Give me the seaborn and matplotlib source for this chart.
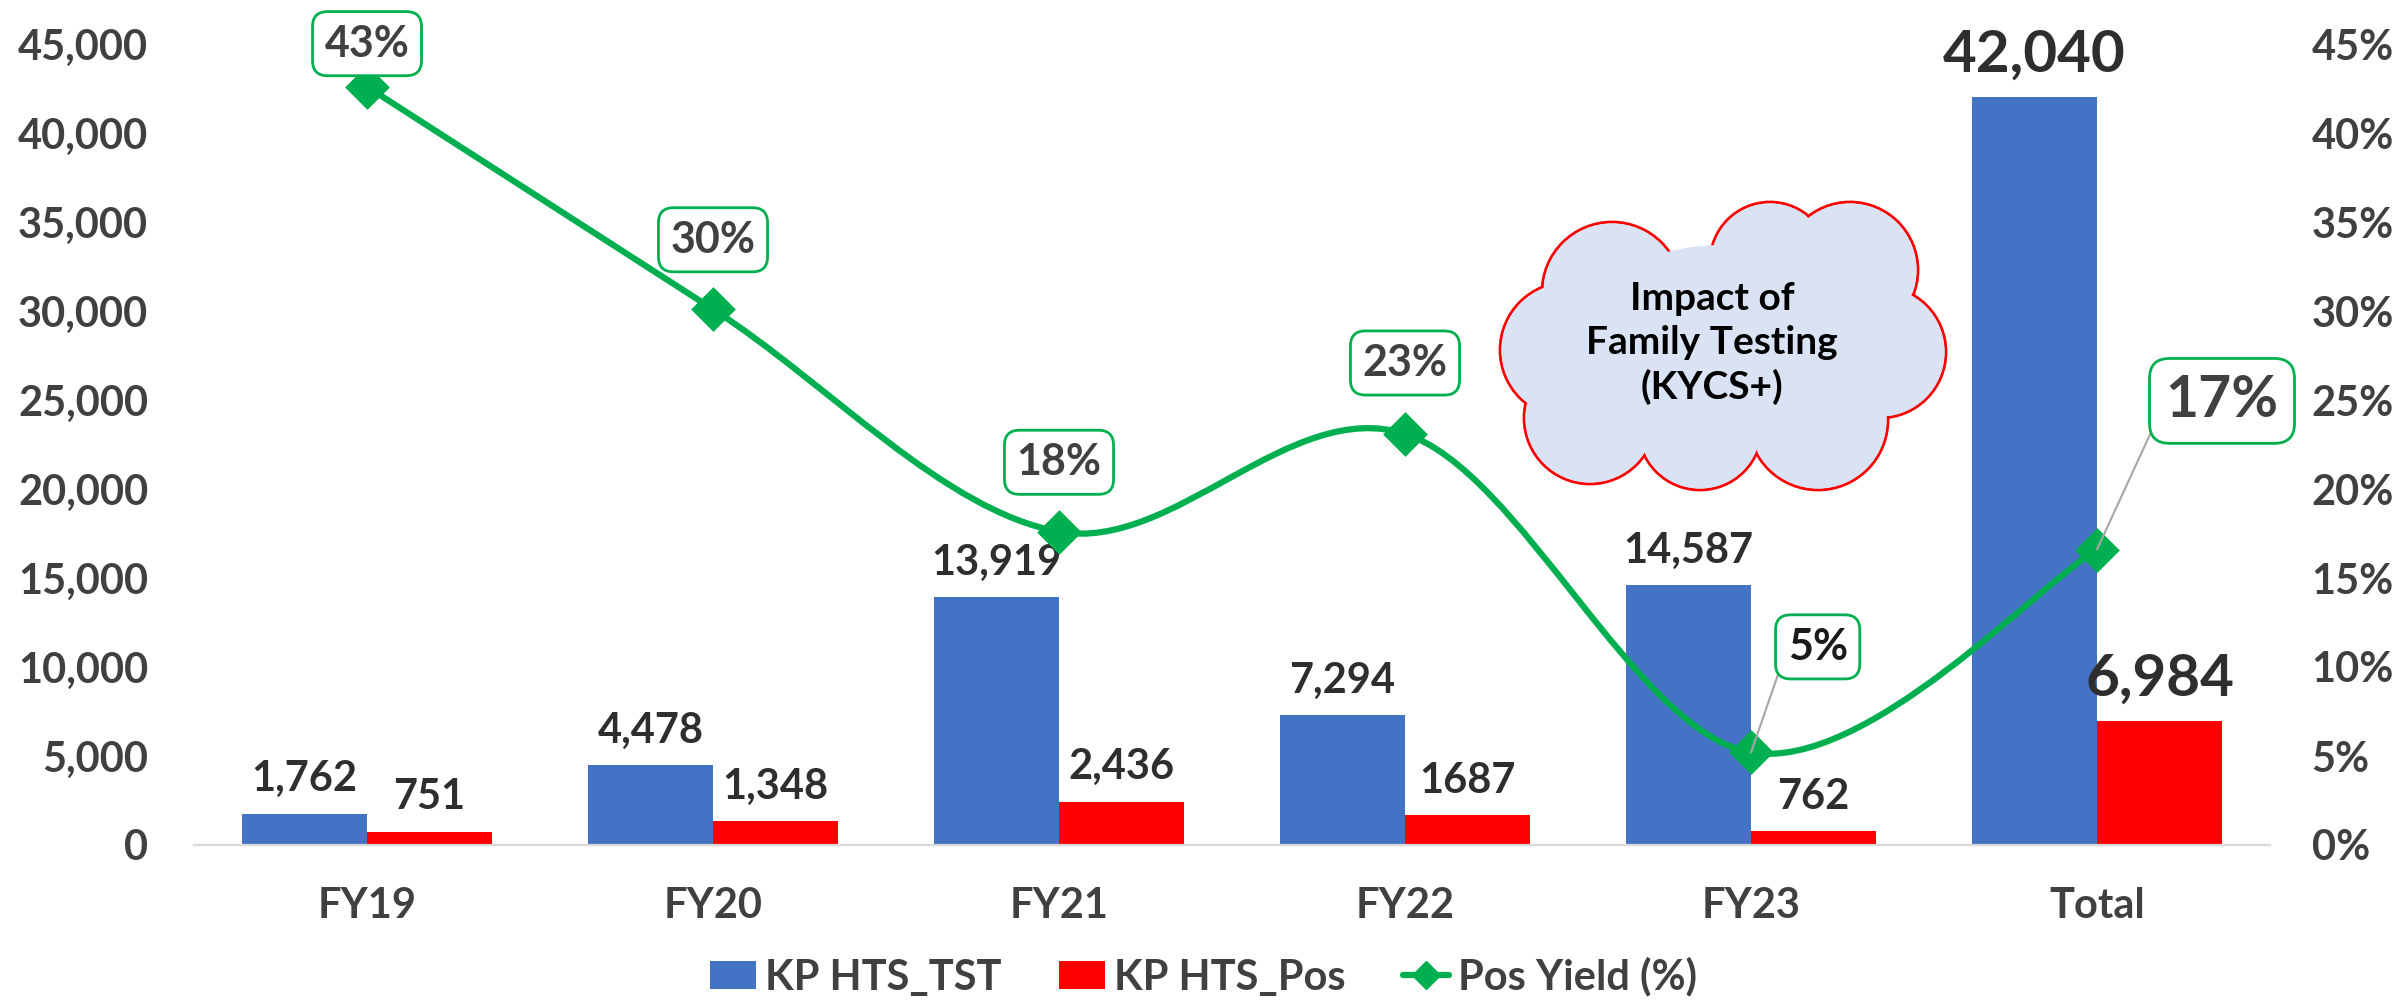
import numpy as np
import pandas as pd
import matplotlib
matplotlib.use("Agg")
import matplotlib.pyplot as plt
import seaborn as sns
from matplotlib.path import Path
from matplotlib.patches import PathPatch, Patch, Circle, Ellipse
from matplotlib.lines import Line2D
from matplotlib.ticker import FuncFormatter

# data
categories = ["FY19", "FY20", "FY21", "FY22", "FY23", "Total"]
tst = [1762, 4478, 13919, 7294, 14587, 42040]
pos = [751, 1348, 2436, 1687, 762, 6984]
pos_yield = [0.426, 0.301, 0.176, 0.231, 0.052, 0.166]
tst_labels = ["1,762", "4,478", "13,919", "7,294", "14,587", "42,040"]
pos_labels = ["751", "1,348", "2,436", "1687", "762", "6,984"]
yield_labels = ["43%", "30%", "18%", "23%", "5%", "17%"]
series_names = ["KP HTS_TST", "KP HTS_Pos", "Pos Yield (%)"]
cloud_text = "Impact of\nFamily Testing\n(KYCS+)"

BLUE = "#4472C4"
RED = "#FF0000"
GREEN = "#00B050"
GREY_TXT = "#404040"
DARK_TXT = "#2E2E2E"

sns.set_theme(style="white")
plt.rcParams["font.family"] = ["Lato", "DejaVu Sans"]
plt.rcParams["font.weight"] = "bold"

df = pd.DataFrame({
    "cat": categories * 2,
    "val": tst + pos,
    "series": [series_names[0]] * len(tst) + [series_names[1]] * len(pos),
})

W, H = 2407, 1007
fig = plt.figure(figsize=(W / 100, H / 100), dpi=100)
ax = fig.add_axes([194 / W, 162 / H, (2270 - 194) / W, (845 - 44) / H])

sns.barplot(data=df, x="cat", y="val", hue="series", palette=[BLUE, RED],
            width=0.722, gap=0, saturation=1, linewidth=0, ax=ax, legend=False)

ax.set_xlim(-0.5, 5.5)
ax.set_ylim(0, 45000)
ax.set_yticks(np.arange(0, 45001, 5000))
ax.yaxis.set_major_formatter(FuncFormatter(lambda v, p: f"{v:,.0f}"))
ax.set_xlabel("")
ax.set_ylabel("")
ax.tick_params(axis="both", length=0, labelsize=30, colors=GREY_TXT)
ax.tick_params(axis="x", pad=30)
ax.tick_params(axis="y", pad=33)
for s in ["top", "left", "right"]:
    ax.spines[s].set_visible(False)
ax.spines["bottom"].set_color("#D9D9D9")
ax.spines["bottom"].set_linewidth(1.6)

# bar value labels
for cont, labs in zip(ax.containers, [tst_labels, pos_labels]):
    txts = ax.bar_label(cont, labels=labs, padding=11, fontsize=30,
                        color=DARK_TXT, fontweight="bold")
    txts[-1].set_fontsize(42)

# secondary axis with smoothed yield line
ax2 = ax.twinx()
ax2.set_ylim(0, 0.45)
ax2.set_yticks(np.arange(0, 0.451, 0.05))
ax2.yaxis.set_major_formatter(FuncFormatter(lambda v, p: f"{v:.0%}"))
ax2.tick_params(axis="y", length=0, labelsize=30, colors=GREY_TXT, pad=30)
for s in ax2.spines.values():
    s.set_visible(False)
ax2.grid(False)

xs = np.arange(len(categories), dtype=float)
pts = [np.array(p) for p in zip(xs, pos_yield)]
ext = [pts[0]] + pts + [pts[-1]]
verts = [pts[0]]
codes = [Path.MOVETO]
for i in range(len(pts) - 1):
    p0, p1, p2, p3 = ext[i], ext[i + 1], ext[i + 2], ext[i + 3]
    verts += [p1 + (p2 - p0) / 6, p2 - (p3 - p1) / 6, p2]
    codes += [Path.CURVE4] * 3
ax2.add_patch(PathPatch(Path(verts, codes), fill=False, ec=GREEN, lw=4.5,
                        capstyle="round", zorder=2))
sns.scatterplot(x=xs, y=pos_yield, marker="D", s=520, color=GREEN,
                linewidth=0, ax=ax2, zorder=3, legend=False)

# yield labels (offsets in points)
offsets = [(0, 31), (0, 50), (0, 50), (0, 51), (48, 76), (90, 107)]
sizes = [31, 31, 31, 31, 31, 41]
for i, (v, lab) in enumerate(zip(pos_yield, yield_labels)):
    dx, dy = offsets[i]
    leader = dx != 0
    ax2.annotate(lab, xy=(xs[i], v), xytext=(dx, dy), textcoords="offset points",
                 ha="center", va="center", fontsize=sizes[i], fontweight="bold",
                 color="#1A1A1A" if lab == "5%" else GREY_TXT, zorder=6,
                 bbox=dict(boxstyle="round,pad=0.28,rounding_size=0.35",
                           fc="white", ec=GREEN, lw=2),
                 arrowprops=dict(arrowstyle="-", color="#A6A6A6", lw=1.5,
                                 shrinkA=0, shrinkB=0, relpos=(0, 0.5)) if leader else None)

# cloud callout
ov = fig.add_axes([0, 0, 1, 1], zorder=5)
ov.set_xlim(0, W)
ov.set_ylim(H, 0)
ov.axis("off")
ov.patch.set_alpha(0)
FILL = "#DAE3F3"
bumps = [(1612, 292, 70), (1770, 262, 60), (1850, 270, 68), (1880, 352, 66),
         (1818, 420, 70), (1700, 428, 62), (1590, 418, 66), (1568, 350, 68)]
for cx, cy, r in bumps:
    ov.add_patch(Circle((cx, cy), r, fc=FILL, ec=RED, lw=2))
for cx, cy, r in bumps:
    ov.add_patch(Circle((cx, cy), r - 1.5, fc=FILL, ec="none"))
ov.add_patch(Ellipse((1722, 345), 300, 200, fc=FILL, ec="none"))
ov.text(1712, 343, cloud_text, ha="center", va="center", fontsize=28,
        fontweight="bold", color="black", linespacing=1.3)

# legend
handles = [Patch(fc=BLUE, ec="none"), Patch(fc=RED, ec="none"),
           Line2D([], [], color=GREEN, lw=4.5, marker="D", markersize=14)]
fig.legend(handles, series_names, loc="center", bbox_to_anchor=(0.5, 0.03),
           ncol=3, frameon=False, fontsize=30, handlelength=1.1, handleheight=0.65,
           handletextpad=0.2, columnspacing=1.4, labelcolor=GREY_TXT)

fig.savefig("out.png", dpi=100, facecolor="white")
